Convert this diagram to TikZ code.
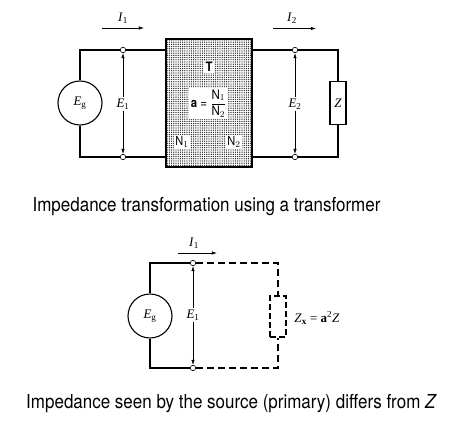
\documentclass[tikz,border=0pt]{standalone}
\usepackage{amsmath}
\usepackage{fontspec}
\newfontfamily\capfont[FakeStretch=0.88]{TeX Gyre Heros}
\newfontfamily\labfont{Liberation Serif}
\newcommand{\lab}[2]{\textit{#1}\textsubscript{#2}}
\usepackage{tikz}
\usetikzlibrary{arrows.meta}
\usetikzlibrary{patterns.meta}

\begin{document}
\begin{tikzpicture}[x=1pt,y=-1pt]
\tikzset{>={Latex[width=1.2mm,length=1.8mm]}}
\tikzstyle{wire}=[line width=1.1pt]
\tikzstyle{thinline}=[line width=0.6pt]
\tikzstyle{source}=[circle,draw,line width=1.1pt,fill=white,minimum size=44pt,inner sep=0pt,font=\labfont\fontsize{13}{14}\selectfont]
\tikzstyle{terminal}=[circle,draw,line width=0.6pt,fill=white,minimum size=5.5pt,inner sep=0pt]
\tikzstyle{load}=[rectangle,draw,line width=1.1pt,fill=white,minimum width=16pt,minimum height=43pt,inner sep=0pt,font=\labfont\fontsize{13}{14}\selectfont]
\tikzstyle{dashedload}=[rectangle,draw,dash pattern=on 6pt off 3pt,line width=1.1pt,minimum width=16pt,minimum height=41pt,inner sep=0pt]
\tikzstyle{tag}=[fill=white,inner sep=1.5pt,font=\labfont\fontsize{13}{14}\selectfont]
\tikzstyle{plain}=[inner sep=0pt,font=\labfont\fontsize{13}{14}\selectfont]
\tikzstyle{caption}=[inner sep=0pt,font=\capfont\fontsize{19.3}{22}\selectfont]

\useasboundingbox (0,0) rectangle (456,436);

% upper circuit
\node[rectangle,draw,line width=1.3pt,minimum width=86pt,minimum height=128pt,inner sep=0pt,
  pattern={Dots[distance=2.2pt,radius=0.7pt]},pattern color=black!85](xfmr) at (209,103){};
\node[source](eg) at (80,103){\lab{E}{g}};
\node[terminal](t1) at (123,50){};
\node[terminal](b1) at (123,157){};
\node[terminal](t2) at (295,50){};
\node[terminal](b2) at (295,157){};
\node[load](z) at (338,103){\textit{Z}};

\draw [wire] (eg) |- (t1);
\draw [wire] (eg) |- (b1);
\draw [wire] (t1) -- (t1 -| xfmr.west);
\draw [wire] (b1) -- (b1 -| xfmr.west);
\draw [wire] (t2) -- (t2 -| xfmr.east);
\draw [wire] (b2) -- (b2 -| xfmr.east);
\draw [wire] (z) |- (t2);
\draw [wire] (z) |- (b2);

\node[tag](e1) at (123,104){\lab{E}{1}};
\node[tag](e2) at (295,104){\lab{E}{2}};
\draw [<-,thinline] (t1) -- (e1);
\draw [->,thinline] (e1) -- (b1);
\draw [<-,thinline] (t2) -- (e2);
\draw [->,thinline] (e2) -- (b2);

\coordinate (i1s) at (102,28);
\coordinate (i1e) at (144,28);
\coordinate (i2s) at (273,28.5);
\coordinate (i2e) at (316,28.5);
\draw [->,thinline] (i1s) -- (i1e);
\draw [->,thinline] (i2s) -- (i2e);
\node[plain](i1) at (123,18){\lab{I}{1}};
\node[plain](i2) at (292,18){\lab{I}{2}};

\node[tag,font=\capfont\fontsize{13}{14}\selectfont\bfseries](tname) at (209,67){T};
\node[tag,inner sep=1pt,minimum width=39pt,minimum height=31pt,font=\capfont\fontsize{13}{15}\selectfont](ratio) at (208.5,103.5){\textbf{a} = $\dfrac{\text{N}_1}{\text{N}_2}$};
\node[tag,font=\capfont\fontsize{12.5}{14}\selectfont](n1) at (182,142){N$_1$};
\node[tag,font=\capfont\fontsize{12.5}{14}\selectfont](n2) at (234,142){N$_2$};

\node[caption](cap1) at (206.5,207){Impedance transformation using a transformer};

% lower circuit
\node[source](eg2) at (150,316){\lab{E}{g}};
\node[terminal](t3) at (193,263){};
\node[terminal](b3) at (193,368){};
\node[dashedload](zx) at (278,316.5){};
\coordinate (c1) at (278,263);
\coordinate (c2) at (278,368);

\draw [wire] (eg2) |- (t3);
\draw [wire] (eg2) |- (b3);
\draw [wire,dash pattern=on 7pt off 4pt] (t3) -- (c1) -- (zx);
\draw [wire,dash pattern=on 7pt off 4pt] (b3) -- (c2) -- (zx);

\node[tag](e3) at (193,315){\lab{E}{1}};
\draw [<-,thinline] (t3) -- (e3);
\draw [->,thinline] (e3) -- (b3);

\coordinate (i3s) at (178,253);
\coordinate (i3e) at (217,253);
\draw [->,thinline] (i3s) -- (i3e);
\node[plain](i3) at (194,243){\lab{I}{1}};
\node[plain](zxl) at (317,318){\lab{Z}{\textbf{x}} = \textbf{a}\textsuperscript{2}\textit{Z}};

\node[caption](cap2) at (231.5,404){Impedance seen by the source (primary) differs from \textit{Z}};
\end{tikzpicture}
\end{document}
